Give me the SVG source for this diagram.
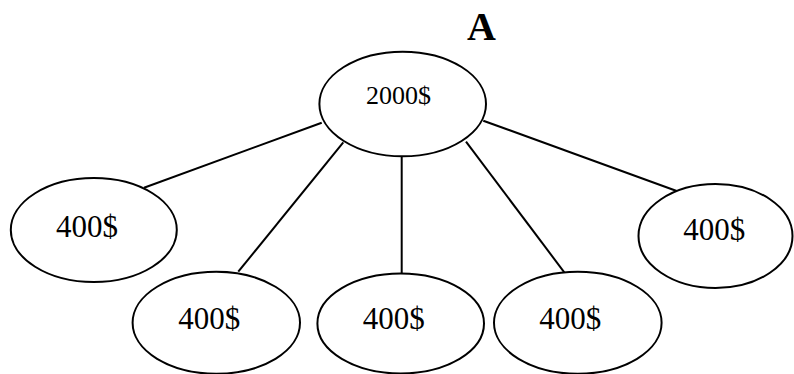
<svg xmlns="http://www.w3.org/2000/svg" width="794" height="374" viewBox="0 0 794 374">
<style>
.n{fill:#fff;stroke:#000;stroke-width:2}
.t{font-family:"Liberation Serif","Times New Roman",serif;font-size:31px;fill:#000}
.c line{stroke:#000;stroke-width:2}
</style>
<rect width="794" height="374" fill="#fff"/>
<text x="467" y="39.5" font-family="Liberation Serif, serif" font-size="40" font-weight="bold">A</text>
<g class="c" id="connectors">
<line x1="321.7" y1="122.7" x2="144" y2="187.7"/>
<line x1="343.3" y1="142.3" x2="238.3" y2="271.7"/>
<line x1="401.7" y1="156" x2="401.7" y2="273"/>
<line x1="466" y1="141.7" x2="564.3" y2="272.3"/>
<line x1="483.3" y1="120.7" x2="676.7" y2="191"/>
</g>
<g id="root"><ellipse class="n" cx="402.7" cy="104" rx="83.3" ry="52.3"/><text class="t" x="366" y="103.5" style="font-size:26px">2000$</text></g>
<g id="n1"><ellipse class="n" cx="93.8" cy="230" rx="83" ry="52"/><text class="t" x="56" y="237">400$</text></g>
<g id="n2"><ellipse class="n" cx="216.3" cy="322.8" rx="83.7" ry="51"/><text class="t" x="178.3" y="328.5">400$</text></g>
<g id="n3"><ellipse class="n" cx="400.7" cy="323.5" rx="83.3" ry="50"/><text class="t" x="362.7" y="329">400$</text></g>
<g id="n4"><ellipse class="n" cx="577.8" cy="322.8" rx="83.8" ry="51"/><text class="t" x="539.3" y="328.5">400$</text></g>
<g id="n5"><ellipse class="n" cx="715.5" cy="236" rx="77" ry="52"/><text class="t" x="683.3" y="240">400$</text></g>
</svg>
